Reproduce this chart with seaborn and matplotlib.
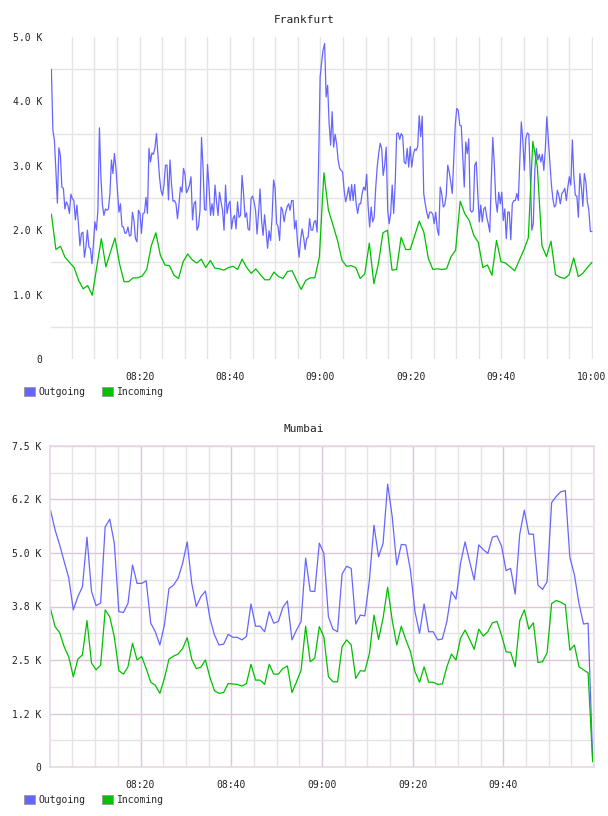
import numpy as np
import pandas as pd
import matplotlib
matplotlib.use("Agg")
import matplotlib.pyplot as plt
import matplotlib.dates as mdates
from matplotlib.patches import Patch
from matplotlib.ticker import FuncFormatter, MultipleLocator
import seaborn as sns

# --- data (values in K) ---
fra_out = [
    4.50, 3.55, 3.40, 2.93, 2.42, 3.28, 3.16, 2.67, 2.65, 2.33, 2.44, 2.39, 2.26, 2.56, 2.49, 2.46,
    2.16, 2.39, 2.10, 1.76, 1.95, 1.97, 1.58, 1.74, 2.00, 1.74, 1.71, 1.48, 1.79, 2.13, 2.00, 2.31,
    3.59, 2.83, 2.39, 2.23, 2.33, 2.31, 2.33, 2.57, 3.09, 2.88, 3.19, 2.96, 2.62, 2.28, 2.41, 2.06,
    2.05, 1.95, 1.96, 2.05, 1.91, 1.92, 2.28, 2.15, 1.87, 1.82, 2.31, 2.26, 1.95, 2.26, 2.27, 2.51,
    2.26, 3.27, 3.06, 3.20, 3.18, 3.28, 3.50, 3.16, 2.83, 2.62, 2.54, 2.70, 3.01, 3.01, 2.47, 3.09,
    2.72, 2.45, 2.46, 2.41, 2.18, 2.41, 2.67, 2.59, 2.96, 2.87, 2.58, 2.63, 2.70, 2.83, 2.16, 2.41,
    2.45, 2.00, 2.06, 2.31, 3.44, 2.98, 2.32, 2.31, 3.02, 2.67, 2.23, 2.41, 2.23, 2.70, 2.44, 2.23,
    2.59, 2.44, 2.31, 2.00, 2.70, 2.26, 2.40, 2.45, 2.02, 2.18, 2.23, 2.02, 2.44, 2.20, 2.23, 2.85,
    2.57, 2.20, 2.27, 2.02, 2.00, 2.49, 2.53, 2.44, 2.31, 1.94, 2.27, 2.64, 2.15, 1.92, 2.24, 2.00,
    1.72, 1.99, 1.84, 2.20, 2.78, 2.65, 2.11, 2.05, 1.84, 2.36, 2.31, 2.13, 2.27, 2.36, 2.41, 2.31,
    2.46, 2.46, 2.02, 2.15, 1.79, 1.58, 1.85, 2.02, 1.89, 1.70, 1.87, 1.89, 2.18, 2.00, 2.00, 2.13,
    2.15, 1.97, 3.03, 4.38, 4.61, 4.80,
    4.90, 4.07, 4.25, 3.66, 3.32, 3.84, 3.29, 3.49, 3.34, 3.09, 2.96, 2.93, 2.90, 2.62, 2.44, 2.54,
    2.67, 2.46, 2.71, 2.46, 2.71, 2.41, 2.26, 2.41, 2.41, 2.57, 2.67, 2.62, 2.87, 2.36, 2.05, 2.36,
    2.13, 2.20, 2.65, 2.98, 3.19, 3.35, 3.27, 2.85, 3.01, 3.29, 2.31, 2.10, 2.26, 2.70, 2.26, 2.72,
    3.50, 3.51, 3.41, 3.50, 3.46, 3.06, 3.03, 3.27, 2.98, 3.30, 2.98, 3.16, 3.26, 3.24, 3.30, 3.78,
    3.45, 3.77, 2.57, 2.41, 2.28, 2.18, 2.28, 2.28, 2.25, 2.10, 2.28, 2.02, 1.92, 2.67, 2.57, 2.36,
    2.39, 2.54, 3.01, 2.90, 2.75, 2.57, 3.09, 3.63, 3.89, 3.86, 3.63, 3.62, 3.14, 2.67, 3.37, 3.19,
    3.42, 2.31, 2.28, 2.31, 3.01, 3.06, 2.57, 2.13, 2.39, 2.13, 2.33, 2.36, 2.20, 2.10, 1.97, 2.77,
    3.44, 3.03, 2.46, 2.28, 2.59, 2.41, 2.59, 2.15, 2.33, 1.87, 2.28, 2.28, 1.85, 2.41, 2.46, 2.46,
    2.57, 2.46, 3.09, 3.68, 3.40, 2.93, 3.42, 3.51, 3.49, 2.83, 2.00, 2.10, 2.93, 3.27, 3.09, 3.18,
    3.06, 3.18, 2.93, 3.26, 3.76, 3.40, 3.06, 2.72, 2.49, 2.36, 2.39, 2.62, 2.54, 2.41, 2.57, 2.60,
    2.65, 2.46, 2.67, 2.83, 2.70, 3.40, 2.83, 2.54, 2.53, 2.20, 2.88, 2.67, 2.37, 2.88, 2.75, 2.44,
    2.31, 1.98, 1.98,
]
fra_in = [
    2.25, 1.70, 1.75, 1.58, 1.50, 1.42, 1.22, 1.09, 1.14, 0.99,
    1.43, 1.87, 1.43, 1.66, 1.88, 1.48, 1.20, 1.20, 1.26, 1.26,
    1.29, 1.39, 1.76, 1.96, 1.61, 1.46, 1.45, 1.30, 1.25, 1.51,
    1.63, 1.54, 1.49, 1.55, 1.42, 1.53, 1.41, 1.40, 1.38, 1.42,
    1.44, 1.39, 1.55, 1.42, 1.33, 1.40, 1.31, 1.23, 1.23, 1.35,
    1.28, 1.25, 1.36, 1.37, 1.22, 1.08, 1.22, 1.26, 1.26, 1.58,
    2.89, 2.31, 2.08, 1.84, 1.53, 1.44, 1.45, 1.42, 1.25, 1.32,
    1.80, 1.17, 1.48, 1.96, 2.00, 1.38, 1.39, 1.89, 1.70, 1.70,
    1.92, 2.14, 1.97, 1.56, 1.39, 1.40, 1.39, 1.40, 1.59, 1.69,
    2.45, 2.26, 2.15, 1.92, 1.81, 1.42, 1.46, 1.30, 1.84, 1.51,
    1.49, 1.43, 1.37, 1.53, 1.69, 1.88, 3.38, 2.98, 1.76, 1.59,
    1.83, 1.31, 1.27, 1.25, 1.31, 1.57, 1.28, 1.33, 1.42, 1.50,
]
mum_out = [
    6.00, 5.54, 5.19, 4.80, 4.42, 3.67, 3.98, 4.21, 5.37, 4.10, 3.77, 3.83, 5.61, 5.79, 5.23, 3.63,
    3.61, 3.82, 4.72, 4.29, 4.29, 4.35, 3.36, 3.16, 2.85, 3.32, 4.17, 4.25, 4.41, 4.76, 5.26, 4.29,
    3.75, 3.98, 4.11, 3.47, 3.08, 2.85, 2.87, 3.10, 3.03, 3.03, 2.97, 3.05, 3.81, 3.29, 3.29, 3.16,
    3.63, 3.36, 3.40, 3.73, 3.88, 2.97, 3.20, 3.40, 4.88, 4.11, 4.10, 5.23, 4.99, 3.51, 3.22, 3.16,
    4.51, 4.69, 4.64, 3.34, 3.55, 3.53, 4.37, 5.65, 4.91, 5.23, 6.61, 5.85, 4.72, 5.20, 5.19, 4.60,
    3.63, 3.12, 3.81, 3.16, 3.16, 2.97, 2.99, 3.40, 4.10, 3.92, 4.76, 5.26, 4.80, 4.37,
    5.19, 5.08, 4.99, 5.37, 5.40, 5.16, 4.59, 4.64, 4.04, 5.44, 6.00, 5.44, 5.44, 4.25, 4.15, 4.33,
    6.18, 6.32, 6.43, 6.46, 4.90, 4.49, 3.82, 3.34, 3.36, 0.20,
]
mum_in = [
    3.69, 3.28, 3.14, 2.81, 2.57, 2.11, 2.52, 2.62, 3.42, 2.43, 2.27, 2.38, 3.67, 3.51, 3.04, 2.25,
    2.17, 2.34, 2.89, 2.50, 2.58, 2.30, 1.98, 1.91, 1.72, 2.07, 2.52, 2.59, 2.64, 2.77, 3.02, 2.52,
    2.30, 2.33, 2.50, 2.09, 1.78, 1.72, 1.74, 1.95, 1.94, 1.93, 1.89, 1.95, 2.40, 2.03, 2.03, 1.93,
    2.40, 2.17, 2.17, 2.30, 2.36, 1.74, 1.99, 2.26, 3.29, 2.46, 2.54, 3.28, 3.04, 2.11, 1.99, 1.99,
    2.81, 2.97, 2.85, 2.07, 2.25, 2.24, 2.65, 3.55, 2.98, 3.48, 4.20, 3.43, 2.85, 3.29, 2.97, 2.70,
    2.23, 1.98, 2.34, 1.98, 1.98, 1.93, 1.94, 2.34, 2.64, 2.50, 3.01, 3.20, 2.98, 2.75,
    3.22, 3.06, 3.16, 3.37, 3.40, 3.08, 2.69, 2.68, 2.34, 3.42, 3.67, 3.22, 3.37, 2.44, 2.46, 2.67,
    3.82, 3.89, 3.85, 3.79, 2.73, 2.85, 2.34, 2.27, 2.20, 0.12,
]
fra_ticks = ["08:20", "08:40", "09:00", "09:20", "09:40", "10:00"]
mum_ticks = ["08:20", "08:40", "09:00", "09:20", "09:40"]
series_names = ["Outgoing", "Incoming"]

DAY = "2024-01-01 "
BLUE = "#6666ff"
GREEN = "#00c000"


def make_df(vals, start, end):
    t = pd.date_range(DAY + start, DAY + end, periods=len(vals))
    return pd.DataFrame({"time": t, "rate": np.array(vals) * 1000})


def kfmt(v, pos):
    if v == 0:
        return "0"
    return f"{v / 1000:.1f} K"


sns.set_style("white")
plt.rcParams['font.family'] = ['DejaVu Sans Mono', 'DejaVu Sans']

fig = plt.figure(figsize=(6.08, 8.16), dpi=100)
ax1 = fig.add_axes([51 / 608, 1 - 359 / 816, 542 / 608, 322 / 816])
ax2 = fig.add_axes([50 / 608, 1 - 767 / 816, 544 / 608, 321 / 816])

panels = [
    (ax1, "Frankfurt", fra_out, fra_in, ("08:00:30", "10:00:00"), ("08:00:25", "10:00:15"),
     fra_ticks, 5000, 1000, 20),
    (ax2, "Mumbai", mum_out, mum_in, ("08:00:10", "09:59:40"), ("08:00:03", "09:59:58"),
     mum_ticks, 7500, 1250, 429),
]

for ax, title, out_vals, in_vals, span, xlim, ticks, ymax, ystep, ty in panels:
    sns.lineplot(data=make_df(out_vals, *span), x="time", y="rate", ax=ax,
                 color=BLUE, lw=0.9, estimator=None)
    sns.lineplot(data=make_df(in_vals, *span), x="time", y="rate", ax=ax,
                 color=GREEN, lw=0.9, estimator=None)
    ax.set_xlabel("")
    ax.set_ylabel("")
    ax.set_xlim(pd.Timestamp(DAY + xlim[0]), pd.Timestamp(DAY + xlim[1]))
    ax.set_ylim(0, ymax)

    ax.set_xticks([pd.Timestamp(DAY + t) for t in ticks])
    ax.set_xticklabels(ticks)
    ax.xaxis.set_minor_locator(mdates.MinuteLocator(byminute=range(0, 60, 5)))
    ax.yaxis.set_major_locator(MultipleLocator(ystep))
    ax.yaxis.set_minor_locator(MultipleLocator(ystep / 2))
    ax.yaxis.set_major_formatter(FuncFormatter(kfmt))
    ax.tick_params(which="both", length=0, labelsize=7, colors="#222222")
    ax.tick_params(axis="y", pad=6)
    ax.tick_params(axis="x", pad=9)
    ax.set_axisbelow(True)

    fig.text(0.5, 1 - ty / 816, title, ha="center", va="center", fontsize=8, color="#222222")

# Frankfurt: plain grey grid, no frame
ax1.grid(which="minor", color="#e4e4e4", lw=1)
ax1.grid(which="major", axis="x", color="#e4e4e4", lw=1)
ax1.grid(which="major", axis="y", visible=False)
for s in ax1.spines.values():
    s.set_visible(False)

# Mumbai: pinkish major grid, grey minor grid, light frame
ax2.grid(which="major", color="#dcc6dc", lw=1)
ax2.grid(which="minor", color="#e4e4e4", lw=1)
for s in ax2.spines.values():
    s.set_visible(True)
    s.set_color("#e6d8e6")
    s.set_linewidth(1.2)

handles = [Patch(facecolor=BLUE, edgecolor="#999999", lw=0.6),
           Patch(facecolor=GREEN, edgecolor="#999999", lw=0.6)]
for ly in (392, 800):
    fig.legend(handles, series_names, loc="center left",
               bbox_to_anchor=(24 / 608, 1 - ly / 816), ncol=2, frameon=False,
               fontsize=7, handlelength=1.1, handleheight=1.0, handletextpad=0.4,
               columnspacing=1.7, borderpad=0, borderaxespad=0)

fig.savefig("out.png", dpi=100)
